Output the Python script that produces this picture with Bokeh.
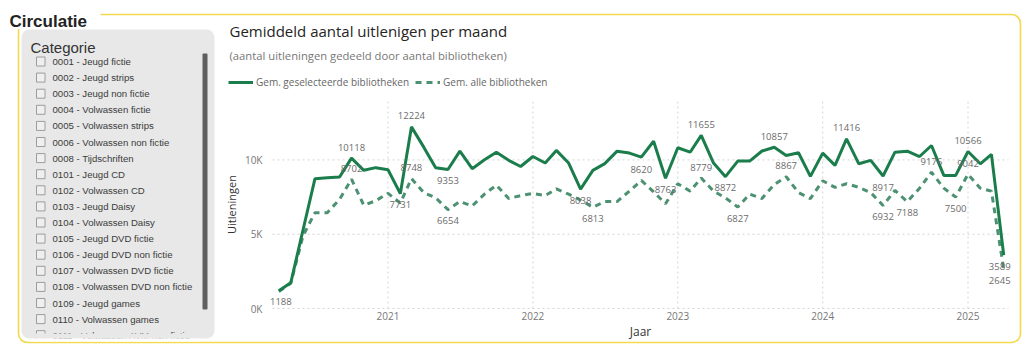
import pandas as pd
from bokeh.plotting import figure
from bokeh.models import (ColumnDataSource, Range1d, FixedTicker, CustomJSTickFormatter,
                          BoxAnnotation, Label, LabelSet, Legend, LegendItem)
from bokeh.core.properties import value
from bokeh.embed import file_html
from bokeh.resources import INLINE

# ---------------- data ----------------
first_month = "2020-04-01"
geselecteerde = [1188, 1730, 5300, 8740, 8800, 8850, 10118, 9300, 9480,
                 9340, 7731, 12224, 10860, 9480, 9353, 10590, 9410, 10010, 10520, 9970, 9560,
                 10230, 9790, 10640, 9790, 8038, 9300, 9750, 10590, 10460, 10190, 11260, 8763,
                 10820, 10520, 11655, 9790, 8872, 9920, 9920, 10600, 10857, 10300, 10480, 8890,
                 10460, 9630, 11416, 9740, 9970, 8917, 10520, 10590, 10230, 10970, 8960, 8960,
                 10566, 9740, 10370, 3589]
alle = [1150, 1700, 4900, 6450, 6450, 7350, 8702, 6950, 7250,
        7750, 7100, 8748, 7800, 7450, 6654, 7200, 6900, 7700, 8300, 7400, 7600,
        7750, 7600, 8050, 7700, 7300, 6813, 7200, 7200, 7900, 8620, 7850, 7050,
        8400, 7900, 8779, 7900, 7450, 6827, 7700, 7400, 8350, 8867, 7800, 7400,
        8600, 8150, 8400, 8150, 7800, 6932, 7950, 7188, 8100, 9176, 8100, 7500,
        9042, 8100, 7900, 2645]
labeled_geselecteerde = ["2020-04", "2020-10", "2021-02", "2021-03", "2021-06", "2022-05",
                         "2022-12", "2023-03", "2023-05", "2023-09", "2024-03", "2024-06",
                         "2025-01", "2025-04"]
labeled_alle = ["2020-10", "2021-03", "2021-06", "2022-06", "2022-10", "2023-03", "2023-06",
                "2023-10", "2024-06", "2024-08", "2024-10", "2024-12", "2025-01", "2025-04"]
year_ticks = ["2021-01-01", "2022-01-01", "2023-01-01", "2024-01-01", "2025-01-01"]
y_ticks = [0, 5000, 10000]
series_names = ["Gem. geselecteerde bibliotheken", "Gem. alle bibliotheken"]
categories = ["0001 - Jeugd fictie", "0002 - Jeugd strips", "0003 - Jeugd non fictie",
              "0004 - Volwassen fictie", "0005 - Volwassen strips", "0006 - Volwassen non fictie",
              "0008 - Tijdschriften", "0101 - Jeugd CD", "0102 - Volwassen CD",
              "0103 - Jeugd Daisy", "0104 - Volwassen Daisy", "0105 - Jeugd DVD fictie",
              "0106 - Jeugd DVD non fictie", "0107 - Volwassen DVD fictie",
              "0108 - Volwassen DVD non fictie", "0109 - Jeugd games", "0110 - Volwassen games",
              "0111 - Volwassen AVM non fictie"]

# ---------------- helpers ----------------
def ms(s):
    return pd.Timestamp(s).value // 10**6

months = pd.date_range(first_month, periods=len(geselecteerde), freq="MS")
xs = [ms(m) for m in months]
keys = [m.strftime("%Y-%m") for m in months]

OX, OY = 0, 0          # canvas origin on the page
def cx(x): return x - OX
def cy(y): return y - OY

W, H = 1022, 352
CL, CR, CT, CB = 272, 1008, 100, 308     # chart plotting area (page px)
x0d, x1d = ms("2020-03-16"), ms("2025-04-13")
y0d, y1d = 0, 14000
kx = (x1d - x0d) / (CR - CL)
ky = (y1d - y0d) / (CB - CT)
x_start = x0d - (CL - OX) * kx
x_end = x1d + (OX + W - CR) * kx
y_start = y0d - (OY + H - CB) * ky
y_end = y1d + (CT - OY) * ky

p = figure(width=W, height=H, output_backend="svg", toolbar_location=None,
           x_range=Range1d(x_start, x_end), y_range=Range1d(y_start, y_end),
           min_border=0, min_border_left=0, min_border_right=0,
           min_border_top=0, min_border_bottom=0)
p.outline_line_color = None
p.background_fill_color = "white"
p.border_fill_color = "white"
p.xgrid.visible = False
p.ygrid.visible = False

# ---------------- decorations ----------------
def box(l, r, t, b, fill=None, line=None, lw=1, radius=0):
    ba = BoxAnnotation(left=cx(l), right=cx(r), top=cy(t), bottom=cy(b),
                       left_units="canvas", right_units="canvas",
                       top_units="canvas", bottom_units="canvas",
                       fill_color=fill if fill else "white", fill_alpha=1 if fill else 0,
                       line_color=line if line else "white", line_alpha=1 if line else 0,
                       line_width=lw, border_radius=radius)
    p.add_layout(ba)
    return ba

def label(x, y, text, font="Open Sans", size="11px", color="#333333", style="normal",
          baseline="middle", align="left"):
    lb = Label(x=cx(x), y=cy(y), x_units="canvas", y_units="canvas", text=text,
               text_font=font, text_font_size=size, text_color=color,
               text_font_style=style, text_baseline=baseline, text_align=align)
    p.add_layout(lb)
    return lb

# yellow group frame
box(18, 1020, 14, 342, line="#F2D94E", lw=1.6, radius=9)
box(0, 100, 0, 28.5, fill="white")
label(9, 21, "Circulatie", font="Liberation Sans", size="17px", color="#222222",
      style="bold", baseline="alphabetic")

# slicer panel
box(21, 214, 29, 338, fill="#E8E8E8", radius=8)
label(30, 47, "Categorie", font="Liberation Sans", size="15px", color="#333333",
      baseline="alphabetic")
box(202, 207, 53, 309, fill="#5F5F5F", radius=1)
for i, cat in enumerate(categories):
    yc = 61 + 16.1 * i
    box(36, 44.5, yc - 4.5, yc + 4.5, fill="#EFEFEF", line="#9C9C9C", lw=1)
    label(52, yc, cat, font="Liberation Sans", size="9.6px", color="#3B3B3B")
box(30, 200, 333, 337.9, fill="#E8E8E8")
box(30, 200, 338, 341, fill="white")

# chart titles
label(229, 30, "Gemiddeld aantal uitlenigen per maand", size="15px", color="#252423")
label(229, 54.5, "(aantal uitleningen gedeeld door aantal bibliotheken)", size="11.25px",
      color="#777777")

# ---------------- grid (dotted) ----------------
grid_style = dict(line_color="#D4D4D4", line_width=1, line_dash="2 3")
yt_ms = [ms(t) for t in year_ticks]
p.segment(x0=yt_ms, x1=yt_ms, y0=[y0d] * len(yt_ms), y1=[y1d] * len(yt_ms), **grid_style)
p.segment(x0=[x0d] * len(y_ticks), x1=[x1d] * len(y_ticks), y0=y_ticks, y1=y_ticks,
          **grid_style)

# ---------------- lines ----------------
src = ColumnDataSource(dict(x=xs, sel=geselecteerde, alle=alle))
r_alle = p.line("x", "alle", source=src, line_color="#4C9171", line_width=3,
                line_dash="6 5")
r_sel = p.line("x", "sel", source=src, line_color="#1A7D4B", line_width=3)

# data labels: peaks above, others below
def label_rows(vals, wanted):
    lx, ly, lt, lo, lxo = [], [], [], [], []
    n = len(vals)
    for i, k in enumerate(keys):
        if k not in wanted:
            continue
        prev = vals[i - 1] if i > 0 else -1
        nxt = vals[i + 1] if i < n - 1 else -1
        above = vals[i] >= prev and vals[i] >= nxt
        lx.append(xs[i]); ly.append(vals[i]); lt.append(str(vals[i]))
        lo.append(11 if above else -11)
        lxo.append(-4 if i == n - 1 else (2 if i == 0 else 0))
    return lx, ly, lt, lo, lxo

rows = [label_rows(geselecteerde, labeled_geselecteerde), label_rows(alle, labeled_alle)]
lab_src = ColumnDataSource(dict(
    x=rows[0][0] + rows[1][0], y=rows[0][1] + rows[1][1], t=rows[0][2] + rows[1][2],
    yo=rows[0][3] + rows[1][3], xo=rows[0][4] + rows[1][4]))
p.add_layout(LabelSet(x="x", y="y", text="t", source=lab_src, y_offset="yo", x_offset="xo",
                      text_font=value("Open Sans"), text_font_size=value("9.5px"),
                      text_color="#6B6B6B", text_align="center", text_baseline="middle"))

# ---------------- axes (fixed at the chart area's edges) ----------------
xa, ya = p.xaxis[0], p.yaxis[0]
xa.fixed_location = y0d
ya.fixed_location = x0d
xa.bounds = (x0d, x1d)
ya.bounds = (y0d, y1d)
xa.ticker = FixedTicker(ticks=yt_ms)
xa.formatter = CustomJSTickFormatter(code="return String(new Date(tick).getUTCFullYear());")
ya.ticker = FixedTicker(ticks=y_ticks)
ya.formatter = CustomJSTickFormatter(code="return (tick/1000).toFixed(0) + 'K';")
for ax in (xa, ya):
    ax.axis_line_color = None
    ax.major_tick_line_color = None
    ax.minor_tick_line_color = None
    ax.major_tick_out = 0
    ax.major_tick_in = 0
    ax.major_label_text_font = "Open Sans"
    ax.major_label_text_font_size = "10px"
    ax.major_label_text_color = "#777777"
    ax.axis_label_text_font = "Open Sans"
    ax.axis_label_text_font_style = "normal"
    ax.axis_label_text_color = "#333333"
xa.axis_label = "Jaar"
xa.axis_label_text_font_size = "12px"
xa.major_label_standoff = 3
xa.axis_label_standoff = 0
ya.axis_label = "Uitleningen"
ya.axis_label_text_font_size = "11px"
ya.major_label_standoff = 10
ya.axis_label_standoff = 3

# ---------------- legend ----------------
legend = Legend(items=[LegendItem(label=series_names[0], renderers=[r_sel]),
                       LegendItem(label=series_names[1], renderers=[r_alle])],
                location=(228 - OX, OY + H - 72 - 20), orientation="horizontal",
                glyph_width=25, glyph_height=20, label_standoff=3, spacing=6,
                padding=0, margin=0, border_line_alpha=0, background_fill_alpha=0,
                label_text_font="Open Sans", label_text_font_size="10px",
                label_text_color="#666666")
p.add_layout(legend)

open("out.html", "w").write(file_html(p, INLINE))
